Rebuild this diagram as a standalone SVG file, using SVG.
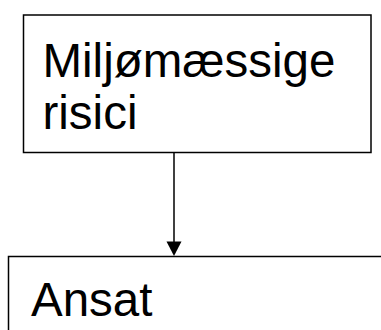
<svg xmlns="http://www.w3.org/2000/svg" width="381" height="330" viewBox="0 0 381 330">
<style>
.box{fill:#fff;stroke:#000;stroke-width:1.5}
.t{font-family:"Liberation Sans",Arial,sans-serif;font-size:47.5px;fill:#000}
.c{stroke:#000;stroke-width:1.5;fill:none}
.ah{fill:#000}
</style>
<rect width="381" height="330" fill="#fff"/>
<g id="node-miljo">
<rect class="box" x="23.5" y="15" width="347.5" height="137.5"/>
<text class="t" x="42.5" y="77">Miljømæssige</text>
<text class="t" x="42.5" y="129">risici</text>
</g>
<g id="node-ansat">
<rect class="box" x="8.5" y="256.5" width="400" height="100"/>
<text class="t" x="31" y="316">Ansat</text>
</g>
<g id="connectors">
<line class="c" x1="174" y1="152.5" x2="174" y2="242"/>
<path class="ah" d="M166.5,241.5 L181.5,241.5 L174,256 Z"/>
</g>
</svg>
